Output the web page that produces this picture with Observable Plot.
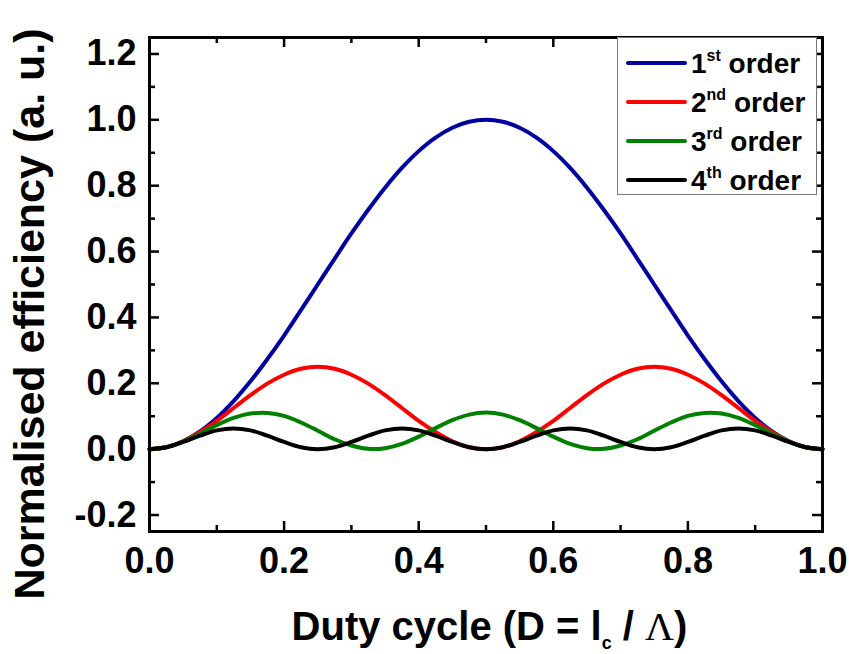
<!DOCTYPE html>
<html>
<head>
<meta charset="utf-8">
<script src="https://cdn.jsdelivr.net/npm/d3@7"></script>
<script src="https://cdn.jsdelivr.net/npm/@observablehq/plot@0.6"></script>
<style>
  body { margin: 0; background: #fff; }
  #chart svg { display: block; }
</style>
</head>
<body>
<div id="chart"></div>
<script>
// Duty cycle samples (D = l / Λ)
const duty = [0, 0.025, 0.05, 0.075, 0.1, 0.125, 0.15, 0.175, 0.2, 0.225,
  0.25, 0.275, 0.3, 0.325, 0.35, 0.375, 0.4, 0.425, 0.45, 0.475,
  0.5, 0.525, 0.55, 0.575, 0.6, 0.625, 0.65, 0.675, 0.7, 0.725,
  0.75, 0.775, 0.8, 0.825, 0.85, 0.875, 0.9, 0.925, 0.95, 0.975, 1];

// Normalised diffraction efficiency of each order
const order1 = [0, 0.006, 0.024, 0.054, 0.095, 0.146, 0.206, 0.273, 0.345, 0.422,
  0.5, 0.578, 0.655, 0.727, 0.794, 0.854, 0.905, 0.946, 0.976, 0.994,
  1.0, 0.994, 0.976, 0.946, 0.905, 0.854, 0.794, 0.727, 0.655, 0.578,
  0.5, 0.422, 0.345, 0.273, 0.206, 0.146, 0.095, 0.054, 0.024, 0.006, 0];
const order2 = [0, 0.006, 0.024, 0.052, 0.086, 0.125, 0.164, 0.199, 0.226, 0.244,
  0.25, 0.244, 0.226, 0.199, 0.164, 0.125, 0.086, 0.052, 0.024, 0.006,
  0, 0.006, 0.024, 0.052, 0.086, 0.125, 0.164, 0.199, 0.226, 0.244,
  0.25, 0.244, 0.226, 0.199, 0.164, 0.125, 0.086, 0.052, 0.024, 0.006, 0];
const order3 = [0, 0.006, 0.023, 0.047, 0.073, 0.095, 0.108, 0.110, 0.101, 0.081,
  0.056, 0.030, 0.011, 0.001, 0.003, 0.016, 0.038, 0.064, 0.088, 0.105,
  0.111, 0.105, 0.088, 0.064, 0.038, 0.016, 0.003, 0.001, 0.011, 0.030,
  0.056, 0.081, 0.101, 0.110, 0.108, 0.095, 0.073, 0.047, 0.023, 0.006, 0];
const order4 = [0, 0.006, 0.022, 0.041, 0.057, 0.063, 0.057, 0.041, 0.022, 0.006,
  0, 0.006, 0.022, 0.041, 0.057, 0.063, 0.057, 0.041, 0.022, 0.006,
  0, 0.006, 0.022, 0.041, 0.057, 0.063, 0.057, 0.041, 0.022, 0.006,
  0, 0.006, 0.022, 0.041, 0.057, 0.063, 0.057, 0.041, 0.022, 0.006, 0];

const orderNumbers = ["1", "2", "3", "4"];
const orderSuffixes = ["st", "nd", "rd", "th"];
const orderColors = ["#0000a0", "#ff0000", "#008000", "#000000"];

const xMajor = [0, 0.2, 0.4, 0.6, 0.8, 1.0];
const xMinor = [0.1, 0.3, 0.5, 0.7, 0.9];
const yMajor = [-0.2, 0, 0.2, 0.4, 0.6, 0.8, 1.0, 1.2];
const yMinor = [-0.1, 0.1, 0.3, 0.5, 0.7, 0.9, 1.1];

// Long-format table for the line marks
const allOrders = [order1, order2, order3, order4];
const rows = [];
allOrders.forEach((vals, k) => {
  vals.forEach((v, i) => rows.push({order: k, D: duty[i], eff: v}));
});

const W = 849, H = 654;
const mL = 149, mR = 27, mT = 37, mB = 123;
const pw = W - mL - mR, ph = H - mT - mB;
const majorLen = 10, minorLen = 6;
const font = "'Liberation Sans', Arial, Helvetica, sans-serif";

const tickStyle = {stroke: "black", strokeWidth: 2.5};

const chart = Plot.plot({
  width: W,
  height: H,
  marginLeft: mL,
  marginRight: mR,
  marginTop: mT,
  marginBottom: mB,
  style: {fontFamily: font, background: "#fff"},
  x: {domain: [0, 1], label: null},
  y: {domain: [-0.25, 1.25], label: null},
  marks: [
    // inward ticks on all four sides
    Plot.tickX(xMajor, {x: d => d, insetTop: ph - majorLen, ...tickStyle}),
    Plot.tickX(xMinor, {x: d => d, insetTop: ph - minorLen, ...tickStyle}),
    Plot.tickX(xMajor, {x: d => d, insetBottom: ph - majorLen, ...tickStyle}),
    Plot.tickX(xMinor, {x: d => d, insetBottom: ph - minorLen, ...tickStyle}),
    Plot.tickY(yMajor, {y: d => d, insetRight: pw - majorLen, ...tickStyle}),
    Plot.tickY(yMinor, {y: d => d, insetRight: pw - minorLen, ...tickStyle}),
    Plot.tickY(yMajor, {y: d => d, insetLeft: pw - majorLen, ...tickStyle}),
    Plot.tickY(yMinor, {y: d => d, insetLeft: pw - minorLen, ...tickStyle}),
    // efficiency curves
    ...allOrders.map((_, k) => Plot.line(rows.filter(r => r.order === k), {
      x: "D", y: "eff", stroke: orderColors[k], strokeWidth: 4, curve: "catmull-rom"
    })),
    Plot.axisX({
      ticks: xMajor, tickSize: 0, tickPadding: 16,
      tickFormat: d => d.toFixed(1),
      fontSize: 36, fontWeight: "bold", fill: "black", label: null
    }),
    Plot.axisY({
      ticks: yMajor, tickSize: 0, tickPadding: 13,
      tickFormat: d => d.toFixed(1),
      fontSize: 36, fontWeight: "bold", fill: "black", label: null
    }),
    Plot.frame({stroke: "black", strokeWidth: 3})
  ]
});

document.getElementById("chart").append(chart);

const svg = d3.select(chart);

// Axis titles
const xt = svg.append("text")
  .attr("x", mL + pw / 2 + 4)
  .attr("y", 640)
  .attr("text-anchor", "middle")
  .attr("font-family", font)
  .attr("font-weight", "bold")
  .attr("font-size", 40)
  .attr("fill", "black");
xt.append("tspan").text("Duty cycle (D = l");
xt.append("tspan").attr("font-size", 18).attr("dy", 9).text("c");
xt.append("tspan").attr("dy", -9).text(" / ");
xt.append("tspan").attr("font-family", "'Liberation Serif', 'Times New Roman', serif")
  .attr("font-weight", "normal").text("Λ");
xt.append("tspan").text(")");

svg.append("text")
  .attr("transform", "translate(44,314) rotate(-90)")
  .attr("text-anchor", "middle")
  .attr("font-family", font)
  .attr("font-weight", "bold")
  .attr("font-size", 43)
  .attr("fill", "black")
  .text("Normalised efficiency (a. u.)");

// Legend box
const lg = svg.append("g");
lg.append("rect")
  .attr("x", 617.5).attr("y", 37.5)
  .attr("width", 199).attr("height", 157)
  .attr("fill", "white").attr("stroke", "#777").attr("stroke-width", 1);
const rowY = [63, 102, 141, 180];
orderNumbers.forEach((num, k) => {
  lg.append("line")
    .attr("x1", 628).attr("x2", 685)
    .attr("y1", rowY[k]).attr("y2", rowY[k])
    .attr("stroke", orderColors[k]).attr("stroke-width", 4)
    .attr("stroke-linecap", "round");
  const t = lg.append("text")
    .attr("x", 691).attr("y", rowY[k] + 10)
    .attr("text-anchor", "start")
    .attr("font-family", font).attr("font-weight", "bold")
    .attr("font-size", 28).attr("fill", "black");
  t.append("tspan").text(num);
  t.append("tspan").attr("font-size", 16).attr("dy", -12).text(orderSuffixes[k]);
  t.append("tspan").attr("dy", 12).text(" order");
});
</script>
</body>
</html>
